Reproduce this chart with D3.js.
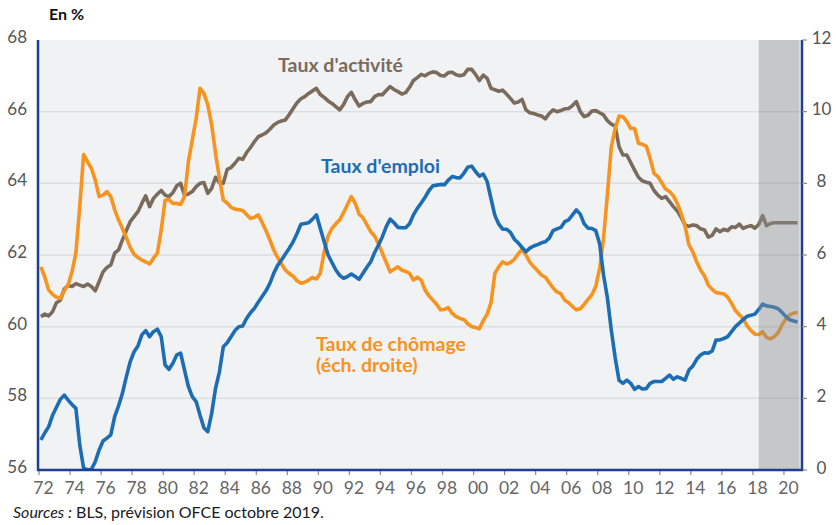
<!DOCTYPE html>
<html>
<head>
<meta charset="utf-8">
<script src="https://cdn.jsdelivr.net/npm/d3@7"></script>
<style>
  body { margin: 0; background: #fff; }
  svg { display: block; font-family: Lato, "Open Sans", sans-serif; }
</style>
</head>
<body>
<svg width="836" height="525"></svg>
<script>
// quarterly data, 1972T1 -> 2020T4
var startYear = 1972
var forecastFrom = 2018.375

// taux d'activite (ech. gauche)
var activite = [
  60.28, 60.35, 60.30, 60.42, 60.67, 60.74, 61.05, 61.15, 61.12, 61.2, 61.16, 61.12, 61.19, 61.12, 61.0, 61.26,
  61.53, 61.65, 61.72, 62.05, 62.14, 62.42, 62.68, 62.93, 63.07, 63.21, 63.44, 63.65, 63.35, 63.58, 63.70, 63.80,
  63.67, 63.63, 63.74, 63.93, 64.0, 63.67, 63.70, 63.77, 63.91, 64.0, 64.02, 63.72, 63.86, 64.17, 64.02, 64.0,
  64.39, 64.44, 64.56, 64.7, 64.67, 64.86, 65.0, 65.16, 65.3, 65.35, 65.41, 65.51, 65.63, 65.7, 65.74, 65.77,
  65.92, 66.09, 66.25, 66.36, 66.42, 66.51, 66.58, 66.65, 66.48, 66.4, 66.3, 66.23, 66.14, 66.05, 66.2, 66.42,
  66.54, 66.33, 66.16, 66.23, 66.27, 66.28, 66.42, 66.48, 66.47, 66.59, 66.7, 66.62, 66.56, 66.49, 66.53, 66.68, 66.87,
  66.95, 67.04, 67.0, 67.07, 67.11, 67.09, 67.01, 67.0, 67.09, 67.1, 67.03, 67.0, 67.03, 67.18, 67.18, 67.04,
  66.87, 67.02, 66.93, 66.65, 66.61, 66.57, 66.6, 66.49, 66.37, 66.24, 66.27, 66.34, 66.05, 65.97, 65.95, 65.91,
  65.88, 65.8, 65.95, 66.05, 66.0, 66.03, 66.08, 66.09, 66.17, 66.28, 66.0, 65.86, 65.9, 66.02, 66.03, 65.97, 65.91,
  65.75, 65.65, 65.6, 65.02, 64.79, 64.79, 64.58, 64.37, 64.17, 64.07, 64.03, 64.0, 63.8, 63.67, 63.58, 63.63,
  63.49, 63.35, 63.23, 63.05, 62.84, 62.8, 62.84, 62.82, 62.73, 62.7, 62.5, 62.55, 62.73, 62.65, 62.72, 62.68,
  62.79, 62.77, 62.86, 62.74, 62.79, 62.82, 62.75, 62.85, 63.1, 62.82, 62.88, 62.9, 62.9, 62.9, 62.9, 62.9, 62.9, 62.9
]

// taux d'emploi (ech. gauche)
var emploi = [
  56.84, 57.04, 57.21, 57.53, 57.75, 57.97, 58.09, 57.95, 57.83, 57.72, 56.7, 56.05, 56.0, 56.02, 56.23, 56.56,
  56.81, 56.89, 56.98, 57.49, 57.79, 58.14, 58.6, 59.02, 59.3, 59.46, 59.77, 59.89, 59.72, 59.86, 59.93, 59.72,
  58.93, 58.81, 58.98, 59.21, 59.26, 58.79, 58.33, 58.05, 57.91, 57.53, 57.18, 57.07, 57.58, 58.28, 58.74, 59.44,
  59.55, 59.72, 59.89, 60.0, 60.02, 60.23, 60.39, 60.51, 60.68, 60.84, 61.0, 61.21, 61.49, 61.71, 61.86, 62.03,
  62.19, 62.37, 62.6, 62.86, 62.88, 62.9, 63.0, 63.12, 62.74, 62.37, 62.0, 61.79, 61.58, 61.43, 61.35, 61.4,
  61.47, 61.4, 61.32, 61.49, 61.66, 61.81, 62.07, 62.28, 62.51, 62.79, 63.0, 62.9, 62.77, 62.76, 62.76, 62.87, 63.12,
  63.3, 63.45, 63.61, 63.8, 63.93, 63.95, 63.97, 63.96, 64.09, 64.19, 64.16, 64.15, 64.28, 64.45, 64.48, 64.33,
  64.2, 64.26, 64.05, 63.57, 63.1, 62.86, 62.72, 62.72, 62.63, 62.44, 62.34, 62.21, 62.09, 62.19, 62.25, 62.29,
  62.34, 62.37, 62.47, 62.68, 62.73, 62.77, 62.93, 62.98, 63.12, 63.26, 63.14, 62.87, 62.75, 62.74, 62.68, 62.31, 61.44,
  60.8, 59.9, 59.13, 58.5, 58.42, 58.51, 58.42, 58.25, 58.33, 58.26, 58.27, 58.42, 58.47, 58.47, 58.47, 58.56,
  58.65, 58.53, 58.6, 58.56, 58.51, 58.79, 58.9, 59.09, 59.21, 59.27, 59.26, 59.32, 59.63, 59.63, 59.67, 59.72,
  59.86, 60.0, 60.1, 60.2, 60.29, 60.32, 60.35, 60.48, 60.63, 60.58, 60.56, 60.54, 60.5, 60.4, 60.28, 60.19, 60.16, 60.13
]

// taux de chomage (ech. droite)
var chomage = [
  5.67, 5.38, 5.02, 4.9, 4.82, 4.79, 5.0, 5.16, 5.53, 6.05, 7.35, 8.8, 8.6, 8.42, 8.09, 7.63,
  7.67, 7.77, 7.63, 7.26, 6.98, 6.74, 6.49, 6.21, 6.02, 5.93, 5.86, 5.81, 5.75, 5.91, 6.05, 6.7,
  7.53, 7.55, 7.44, 7.44, 7.41, 7.63, 8.6, 9.21, 9.81, 10.65, 10.51, 10.19, 9.63, 8.84, 8.14, 7.53,
  7.45, 7.33, 7.28, 7.26, 7.24, 7.13, 7.02, 7.05, 7.12, 6.91, 6.68, 6.42, 6.14, 5.93, 5.75, 5.58,
  5.48, 5.41, 5.28, 5.21, 5.24, 5.3, 5.37, 5.33, 5.49, 6.09, 6.53, 6.74, 6.87, 6.98, 7.18, 7.41,
  7.63, 7.44, 7.14, 7.04, 6.84, 6.65, 6.53, 6.31, 6.05, 5.79, 5.53, 5.6, 5.67, 5.58, 5.54, 5.49, 5.3,
  5.38, 5.3, 5.02, 4.86, 4.74, 4.62, 4.47, 4.48, 4.53, 4.37, 4.28, 4.23, 4.2, 4.08, 4.0, 3.98,
  3.94, 4.17, 4.35, 4.67, 5.49, 5.67, 5.81, 5.75, 5.79, 5.88, 6.03, 6.16, 6.0, 5.8, 5.67, 5.56,
  5.44, 5.38, 5.23, 5.08, 4.97, 4.92, 4.74, 4.67, 4.56, 4.47, 4.5, 4.62, 4.76, 4.89, 5.13, 5.63, 6.47,
  7.7, 9.02, 9.53, 9.88, 9.86, 9.72, 9.53, 9.53, 9.12, 9.09, 9.04, 8.7, 8.28, 8.19, 8.02, 7.84,
  7.77, 7.65, 7.44, 7.16, 6.81, 6.28, 6.09, 5.81, 5.58, 5.42, 5.16, 5.04, 4.95, 4.93, 4.92, 4.82,
  4.65, 4.45, 4.33, 4.22, 4.02, 3.89, 3.79, 3.78, 3.86, 3.7, 3.66, 3.72, 3.83, 4.05, 4.22, 4.33, 4.38, 4.4
]

var leftTicks = [56, 58, 60, 62, 64, 66, 68]
var rightTicks = [0, 2, 4, 6, 8, 10, 12]
var yearTicks = d3.range(1972, 2021, 2)

// zone du graphique (pas de "top" : window.top est en lecture seule)
var plotL = 38, plotR = 802, plotT = 40, plotB = 470

var svg = d3.select('svg')

var x = d3.scaleLinear().domain([1971.935, 1971.935 + (plotR - plotL) / 15.52]).range([plotL, plotR])
var yL = d3.scaleLinear().domain([56, 68]).range([plotB, plotT])
var yR = d3.scaleLinear().domain([0, 12]).range([plotB, plotT])

function t(i) { return startYear + (i + 0.5) / 4 }

// fond du graphique
svg.append('rect')
  .attr('x', plotL).attr('y', plotT)
  .attr('width', plotR - plotL).attr('height', plotB - plotT)
  .attr('fill', '#f1f2f4')

// grille
svg.append('g').selectAll('line')
  .data(leftTicks.slice(1, -1))
  .enter().append('line')
  .attr('x1', plotL).attr('x2', plotR)
  .attr('y1', function(d) { return yL(d) })
  .attr('y2', function(d) { return yL(d) })
  .attr('stroke', '#dcdde0')
  .attr('stroke-width', 1.5)

svg.append('clipPath').attr('id', 'plot')
  .append('rect')
  .attr('x', plotL).attr('y', plotT - 4)
  .attr('width', plotR - plotL).attr('height', plotB - plotT + 4)

function drawLine(data, scale, color) {
  var line = d3.line()
    .x(function(d, i) { return x(t(i)) })
    .y(function(d) { return scale(d) })
  svg.append('path')
    .datum(data)
    .attr('d', line)
    .attr('fill', 'none')
    .attr('stroke', color)
    .attr('stroke-width', 3.6)
    .attr('stroke-linejoin', 'round')
    .attr('clip-path', 'url(#plot)')
}

drawLine(activite, yL, '#7a6b5d')
drawLine(chomage, yR, '#f7931e')
drawLine(emploi, yL, '#1c6db4')

// zone de prevision
svg.append('rect')
  .attr('x', x(forecastFrom)).attr('y', plotT)
  .attr('width', x(2021) - x(forecastFrom)).attr('height', plotB - plotT)
  .attr('fill', '#8c8d90')
  .attr('opacity', 0.43)

// axes
var axisColor = '#1d3f96'
svg.append('line').attr('x1', plotL).attr('x2', plotL).attr('y1', plotT).attr('y2', plotB + 1)
  .attr('stroke', axisColor).attr('stroke-width', 2.5)
svg.append('line').attr('x1', plotR).attr('x2', plotR).attr('y1', plotT).attr('y2', plotB + 1)
  .attr('stroke', axisColor).attr('stroke-width', 2.5)

// petits traits sous l'axe des x
svg.append('g').selectAll('line')
  .data(yearTicks)
  .enter().append('line')
  .attr('x1', function(d) { return x(d) })
  .attr('x2', function(d) { return x(d) })
  .attr('y1', plotB).attr('y2', plotB + 5)
  .attr('stroke', '#8a8a8a').attr('stroke-width', 1.2)

svg.append('g').selectAll('line')
  .data(rightTicks)
  .enter().append('line')
  .attr('x1', plotR).attr('x2', plotR + 5)
  .attr('y1', function(d) { return yR(d) })
  .attr('y2', function(d) { return yR(d) })
  .attr('stroke', '#8a8a8a').attr('stroke-width', 1.2)

svg.append('line').attr('x1', plotL - 1).attr('x2', plotR + 1).attr('y1', plotB).attr('y2', plotB)
  .attr('stroke', axisColor).attr('stroke-width', 2.5)

// libelles des axes
svg.append('g').selectAll('text')
  .data(leftTicks)
  .enter().append('text')
  .text(function(d) { return d })
  .attr('x', 27)
  .attr('y', function(d) { return yL(d) + 3 })
  .attr('text-anchor', 'end')
  .attr('font-size', 17)
  .attr('fill', '#555')

svg.append('g').selectAll('text')
  .data(rightTicks)
  .enter().append('text')
  .text(function(d) { return d })
  .attr('x', 821.5)
  .attr('y', function(d) { return yR(d) + 3.5 })
  .attr('text-anchor', 'middle')
  .attr('font-size', 17)
  .attr('fill', '#555')

svg.append('g').selectAll('text')
  .data(yearTicks)
  .enter().append('text')
  .text(function(d) { return String(d).slice(2) })
  .attr('x', function(d) { return x(d) + 4.5 })
  .attr('y', 494)
  .attr('text-anchor', 'middle')
  .attr('font-size', 17.5)
  .attr('fill', '#666')

svg.append('text').text('En %')
  .attr('x', 49).attr('y', 20)
  .attr('font-size', 16).attr('font-weight', 'bold').attr('fill', '#111')

// noms des series
svg.append('text').text("Taux d'activité")
  .attr('x', 278).attr('y', 72)
  .attr('font-size', 19.5).attr('font-weight', 'bold').attr('fill', '#7a6b5d')
svg.append('text').text("Taux d'emploi")
  .attr('x', 321).attr('y', 173)
  .attr('font-size', 19.5).attr('font-weight', 'bold').attr('fill', '#1c6db4')
svg.append('text').text('Taux de chômage')
  .attr('x', 316).attr('y', 351)
  .attr('font-size', 19.5).attr('font-weight', 'bold').attr('fill', '#f7931e')
svg.append('text').text('(éch. droite)')
  .attr('x', 316).attr('y', 372)
  .attr('font-size', 19.5).attr('font-weight', 'bold').attr('fill', '#f7931e')

// source
var src = svg.append('text').attr('x', 13).attr('y', 518).attr('font-size', 16).attr('fill', '#1a1a1a')
src.append('tspan').text('Sources :').attr('font-style', 'italic')
src.append('tspan').text(' BLS, prévision OFCE octobre 2019.')
</script>
</body>
</html>
